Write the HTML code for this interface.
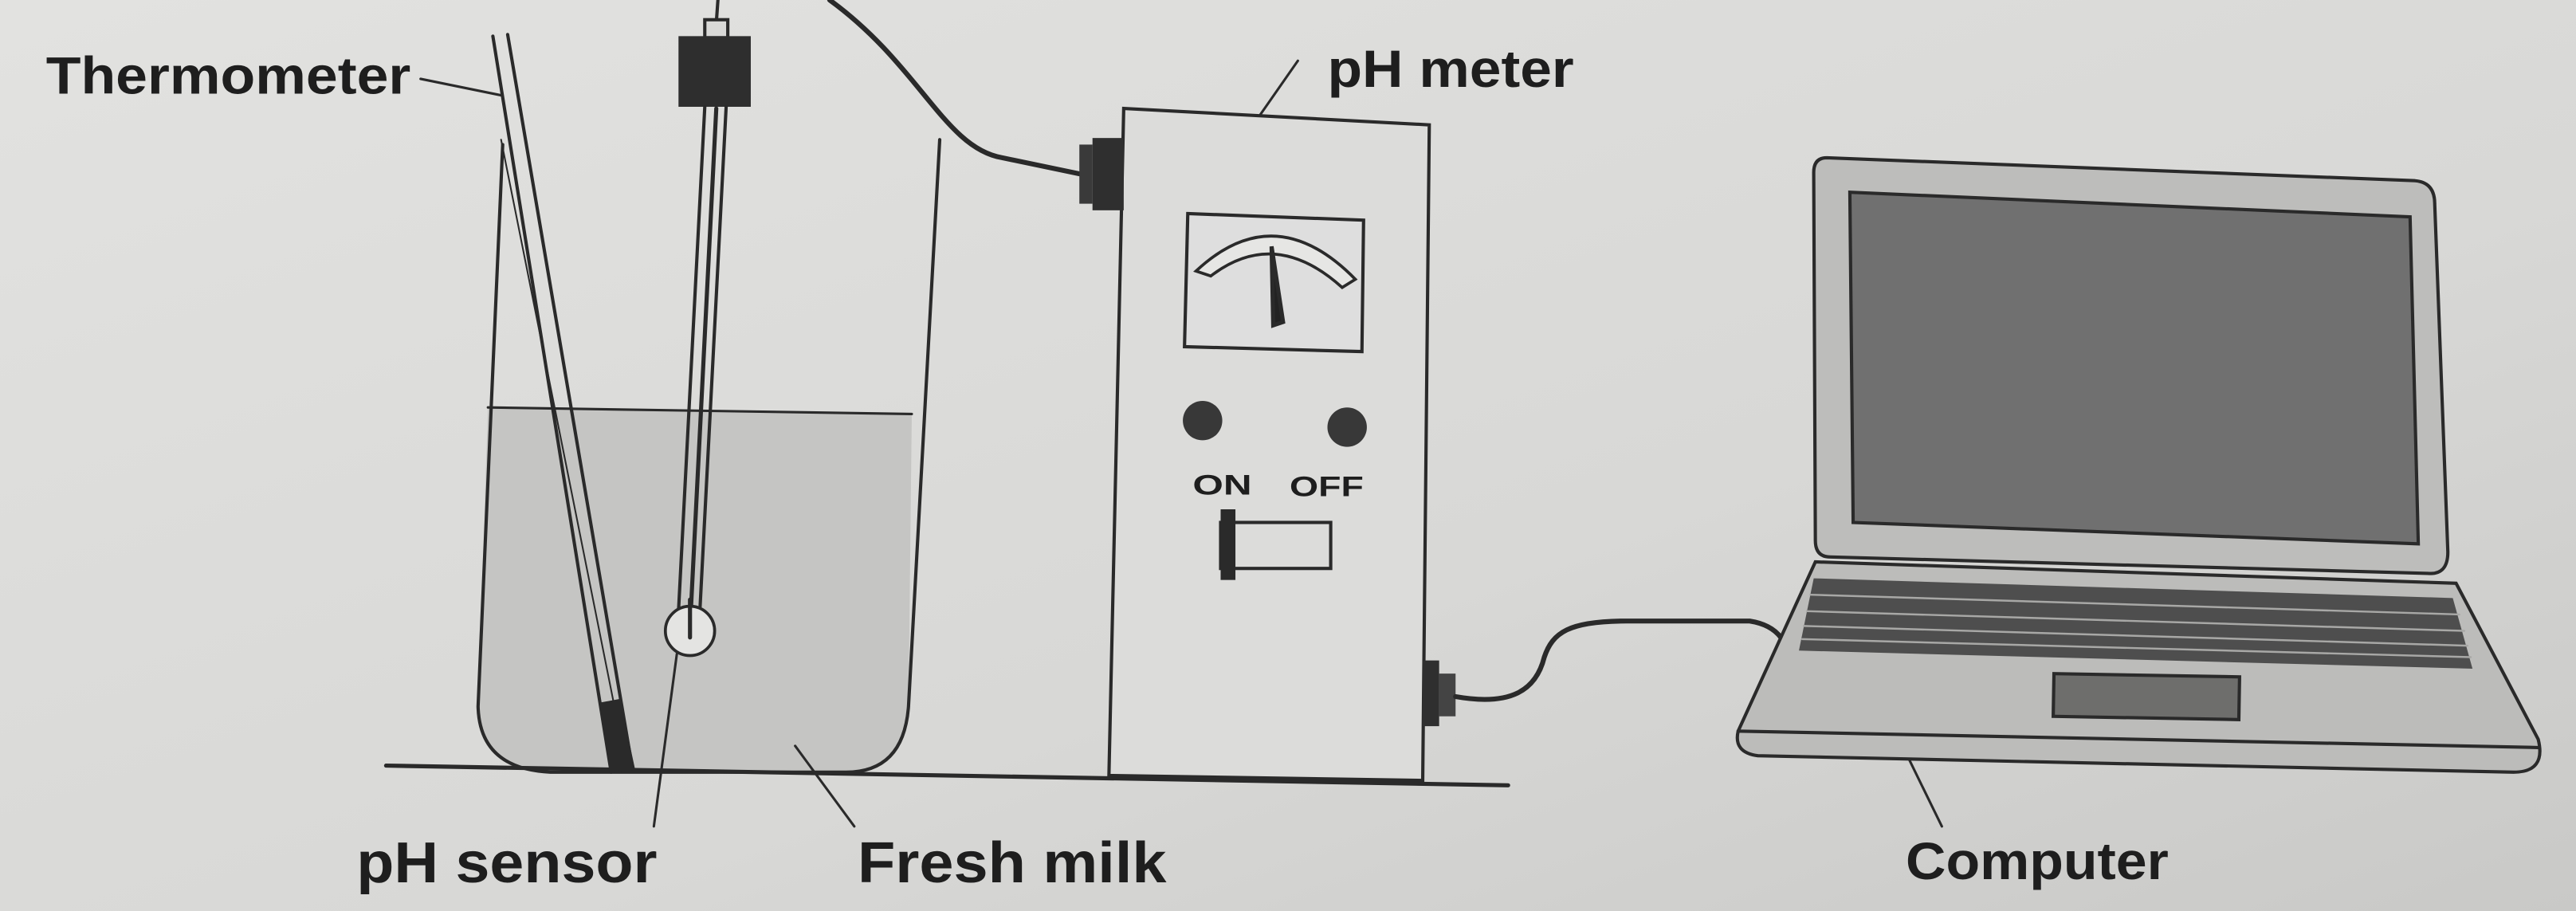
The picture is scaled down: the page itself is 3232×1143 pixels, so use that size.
<!DOCTYPE html>
<html><head><meta charset="utf-8"><style>
html,body{margin:0;padding:0;width:3232px;height:1143px;overflow:hidden;background:#d9d9d7}
svg{display:block}
text{font-family:"Liberation Sans",Arial,sans-serif;fill:#1e1e1e;font-weight:bold}
</style></head><body>
<svg width="3232" height="1143" viewBox="0 0 1568 554.5" preserveAspectRatio="none" xmlns="http://www.w3.org/2000/svg">
<defs>
<linearGradient id="bg" x1="0" y1="0" x2="1" y2="1">
<stop offset="0" stop-color="#e2e2e0"/><stop offset="0.6" stop-color="#d8d8d6"/><stop offset="1" stop-color="#c9c9c7"/>
</linearGradient>
</defs>
<rect width="1568" height="555" fill="url(#bg)"/>
<g stroke="#2a2a2a" fill="none" stroke-linecap="round">
<path d="M297,248 L555,252 L553,430 Q550,470 515,470 L335,470 Q292,468 291,430 Z" fill="#c5c5c3" stroke="none"/>
<line x1="297" y1="248" x2="555" y2="252" stroke-width="1.5"/>
<path d="M306,88 L291,430 Q292,468 335,470 L515,470 Q550,470 553,430 L572,85" stroke-width="2"/>
<line x1="235" y1="466" x2="918" y2="478" stroke-width="2.5"/>
<line x1="300" y1="22" x2="372" y2="470" stroke-width="2"/>
<line x1="309" y1="21" x2="385" y2="468" stroke-width="2"/>
<line x1="305" y1="85" x2="376" y2="440" stroke-width="1"/>
<path d="M366,428 L377,426 L386,468 L373,470 Z" fill="#2a2a2a"/>
<line x1="437" y1="0" x2="436" y2="14" stroke-width="2"/>
<rect x="429" y="12" width="14" height="11" fill="#d9d9d7" stroke-width="2"/>
<rect x="413" y="22" width="44" height="43" fill="#2e2e2e" stroke="none"/>
<line x1="429" y1="65" x2="413" y2="372" stroke-width="2"/>
<line x1="442" y1="65" x2="426" y2="372" stroke-width="2"/>
<line x1="436" y1="66" x2="420" y2="382" stroke-width="2.5"/>
<circle cx="420" cy="384" r="15" fill="#e4e4e2" stroke-width="1.8"/>
<line x1="420" y1="365" x2="420" y2="388" stroke-width="2.5"/>
<line x1="256" y1="48" x2="305" y2="58" stroke-width="1.5"/>
<line x1="412" y1="398" x2="398" y2="503" stroke-width="1.5"/>
<line x1="484" y1="454" x2="520" y2="503" stroke-width="1.5"/>
<line x1="790" y1="37" x2="760" y2="80" stroke-width="1.5"/>
<line x1="1160" y1="458" x2="1182" y2="503" stroke-width="1.5"/>
<path d="M505,0 C560,40 575,90 610,96 L658,106" stroke-width="3"/>
<path d="M684,66 L870,76 L866,475 L675,472 Z" fill="#dcdcda" stroke-width="2"/>
<rect x="657" y="88" width="8" height="36" fill="#3a3a3a" stroke="none"/>
<rect x="665" y="84" width="19" height="44" fill="#2f2f2f" stroke="none"/>
<path d="M723,130 L830,134 L829,214 L721,211 Z" fill="#dedede" stroke-width="2"/>
<path d="M728,165 Q776,120 825,170 L817,175 Q776,138 737,168 Z" fill="#e6e6e4" stroke-width="1.8"/>
<path d="M774,150 L781,196 L775,198 Z" fill="#222" stroke-width="2.5"/>
<circle cx="732" cy="256" r="12" fill="#383838" stroke="none"/>
<circle cx="820" cy="260" r="12" fill="#383838" stroke="none"/>
<rect x="743" y="318" width="67" height="28" fill="#dcdcda" stroke-width="2"/>
<rect x="743" y="310" width="9" height="43" fill="#2a2a2a" stroke="none"/>
<rect x="866" y="402" width="10" height="40" fill="#2f2f2f" stroke="none"/>
<rect x="876" y="410" width="10" height="26" fill="#444" stroke="none"/>
<path d="M886,424 C920,430 935,420 940,400 C945,385 955,378 990,378 L1065,378 Q1078,380 1084,388" stroke-width="3"/>
<!-- laptop base -->
<path d="M1105,342 L1495,355 L1545,450 Q1550,470 1530,470 L1070,460 Q1055,458 1058,445 Z" fill="#bcbcba" stroke-width="2"/>
<path d="M1058,445 L1545,455" stroke-width="2"/>
<path d="M1104,352 L1493,364 L1505,407 L1095,396 Z" fill="#4e4e4e" stroke="none"/>
<g stroke="#a8a8a6" stroke-width="1.2">
<line x1="1102" y1="362" x2="1497" y2="374"/><line x1="1100" y1="372" x2="1500" y2="384"/><line x1="1098" y1="381" x2="1502" y2="393"/><line x1="1097" y1="389" x2="1504" y2="400"/>
</g>
<rect x="1250" y="411" width="113" height="26" fill="#6e6e6c" stroke-width="2" transform="rotate(1 1306 424)"/>
<!-- screen -->
<path d="M1112,96 L1470,110 Q1482,111 1482,124 L1490,336 Q1490,350 1478,349 L1114,339 Q1105,339 1105,329 L1104,105 Q1104,96 1112,96 Z" fill="#bdbdbb" stroke-width="2"/>
<path d="M1126,117 L1467,132 L1472,331 L1128,318 Z" fill="#707070" stroke-width="2"/>
</g>
<text x="28" y="57" font-size="32" textLength="222" lengthAdjust="spacingAndGlyphs">Thermometer</text>
<text x="808" y="53" font-size="32" textLength="150" lengthAdjust="spacingAndGlyphs">pH meter</text>
<text x="217" y="537" font-size="35" textLength="183" lengthAdjust="spacingAndGlyphs">pH sensor</text>
<text x="522" y="537" font-size="35" textLength="188" lengthAdjust="spacingAndGlyphs">Fresh milk</text>
<text x="1160" y="535" font-size="32" textLength="160" lengthAdjust="spacingAndGlyphs">Computer</text>
<text x="726" y="301" font-size="17" textLength="36" lengthAdjust="spacingAndGlyphs">ON</text>
<text x="785" y="302" font-size="17" textLength="45" lengthAdjust="spacingAndGlyphs">OFF</text>
</svg>
</body></html>
